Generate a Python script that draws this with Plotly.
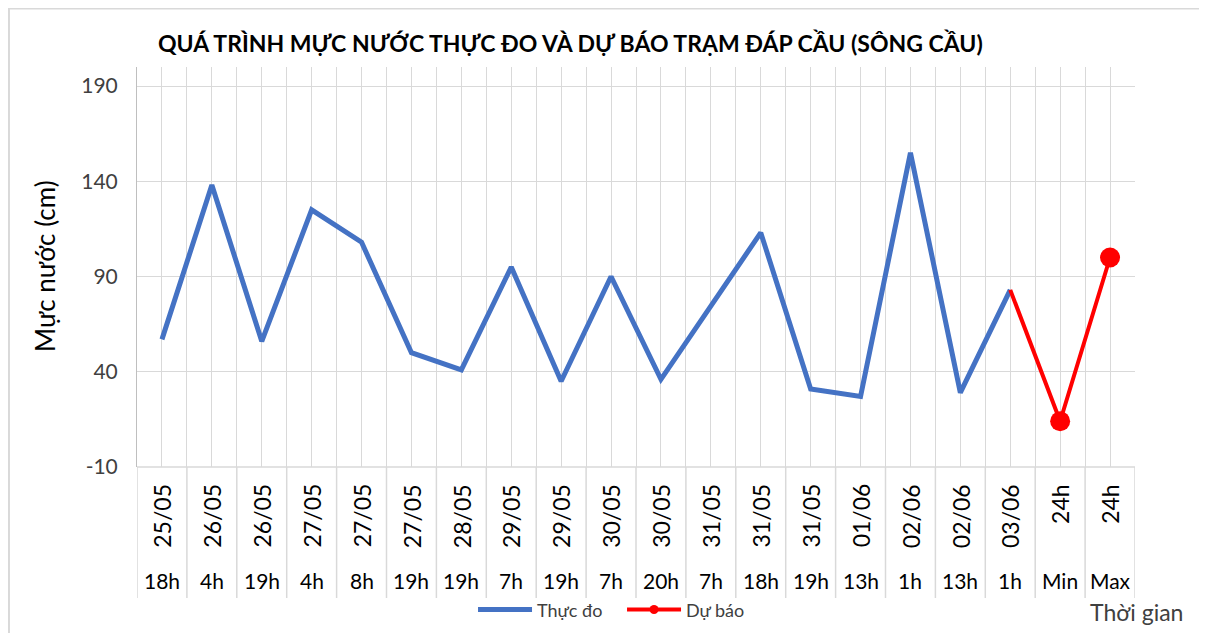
import plotly.graph_objects as go

dates = ["25/05", "26/05", "26/05", "27/05", "27/05", "27/05", "28/05", "29/05", "29/05", "30/05",
         "30/05", "31/05", "31/05", "31/05", "01/06", "02/06", "02/06", "03/06", "24h", "24h"]
hours = ["18h", "4h", "19h", "4h", "8h", "19h", "19h", "7h", "19h", "7h",
         "20h", "7h", "18h", "19h", "13h", "1h", "13h", "1h", "Min", "Max"]
observed = [57, 138, 56, 125, 108, 50, 41, 95, 35, 90,
            36, 75, 113, 31, 27, 155, 29, 83, None, None]
forecast = [None] * 17 + [83, 14, 100]
forecast_points = [None] * 18 + [14, 100]
y_ticks = [-10, 40, 90, 140, 190]

x_idx = list(range(len(dates)))
FONT = "Lato"
BLUE = "#4472C4"
RED = "#FF0000"

fig = go.Figure()
fig.add_trace(go.Scatter(x=x_idx, y=observed, mode="lines", name="Thực đo",
                         line=dict(color=BLUE, width=5), legend="legend"))
fig.add_trace(go.Scatter(x=x_idx, y=forecast, mode="lines", name="Dự báo",
                         line=dict(color=RED, width=4), showlegend=False))
fig.add_trace(go.Scatter(x=x_idx, y=forecast_points, mode="markers", name="Dự báo",
                         marker=dict(color=RED, size=20, opacity=1, line=dict(width=0)),
                         showlegend=False))
# legend entry for forecast (line with small marker)
fig.add_trace(go.Scatter(x=[None], y=[None], mode="lines+markers", name="Dự báo",
                         line=dict(color=RED, width=4), marker=dict(color=RED, size=9),
                         legend="legend2"))

fig.update_xaxes(range=[-0.5, len(dates) - 0.5], tick0=-0.5, dtick=0.5, showticklabels=False,
                 showgrid=True, gridcolor="#d9d9d9", gridwidth=1, zeroline=False,
                 showline=False, fixedrange=True)
fig.update_yaxes(range=[-10, 200], tickvals=y_ticks, ticktext=[str(v) for v in y_ticks],
                 showgrid=True, gridcolor="#d9d9d9",
                 gridwidth=1, zeroline=False, showline=True, linecolor="#bfbfbf", linewidth=1,
                 tickfont=dict(family=FONT, size=21, color="#404040"), ticklabelstandoff=14,
                 automargin=False)

shapes = []
# outer border (left/top edges of the chart frame)
shapes.append(dict(type="line", xref="paper", yref="paper", x0=-0.1283, x1=-0.1283, y0=1.1475, y1=-0.42,
                   line=dict(color="#d9d9d9", width=2), layer="below"))
shapes.append(dict(type="line", xref="paper", yref="paper", x0=-0.1293, x1=1.08, y0=1.1462, y1=1.1462,
                   line=dict(color="#d9d9d9", width=2), layer="below"))
# bottom axis line
shapes.append(dict(type="line", xref="paper", yref="paper", x0=0, x1=1, y0=0, y1=0,
                   line=dict(color="#d9d9d9", width=1.5)))
# category separators in label area
for i in range(len(dates) + 1):
    shapes.append(dict(type="line", xref="x", yref="paper", x0=i - 0.5, x1=i - 0.5, y0=0, y1=-0.3275,
                       line=dict(color="#d9d9d9", width=1.5)))

annotations = []
for i, (d, h) in enumerate(zip(dates, hours)):
    annotations.append(dict(x=i, y=-0.037, xref="x", yref="paper", text=d, textangle=-90,
                            showarrow=False, xanchor="center", yanchor="top",
                            font=dict(family=FONT, size=23, color="#000000")))
    annotations.append(dict(x=i, y=-0.2825, xref="x", yref="paper", text=h,
                            showarrow=False, xanchor="center", yanchor="middle",
                            font=dict(family=FONT, size=21, color="#000000")))

annotations.append(dict(x=0.434, y=1.06, xref="paper", yref="paper",
                        text="<b>QUÁ TRÌNH MỰC NƯỚC THỰC ĐO VÀ DỰ BÁO TRẠM ĐÁP CẦU (SÔNG CẦU)</b>",
                        showarrow=False, xanchor="center", yanchor="middle",
                        font=dict(family=FONT, size=23, color="#000000")))
annotations.append(dict(x=-0.0922, y=0.5025, xref="paper", yref="paper", text="Mực nước (cm)",
                        textangle=-90, showarrow=False, xanchor="center", yanchor="middle",
                        font=dict(family=FONT, size=26, color="#000000")))
annotations.append(dict(x=1.002, y=-0.3625, xref="paper", yref="paper", text="Thời gian",
                        showarrow=False, xanchor="center", yanchor="middle",
                        font=dict(family=FONT, size=23, color="#404040")))

legend_font = dict(family=FONT, size=18, color="#404040")
fig.update_layout(
    width=1199, height=625,
    margin=dict(l=129, r=72, t=59, b=166, autoexpand=False),
    paper_bgcolor="white", plot_bgcolor="white",
    showlegend=True,
    legend=dict(orientation="h", x=0.3367, y=-0.357, xanchor="left", yanchor="middle",
                font=legend_font, bgcolor="rgba(0,0,0,0)", itemwidth=54),
    legend2=dict(orientation="h", x=0.486, y=-0.357, xanchor="left", yanchor="middle",
                 font=legend_font, bgcolor="rgba(0,0,0,0)", itemwidth=54),
    shapes=shapes, annotations=annotations,
)

fig.write_html("out.html")
